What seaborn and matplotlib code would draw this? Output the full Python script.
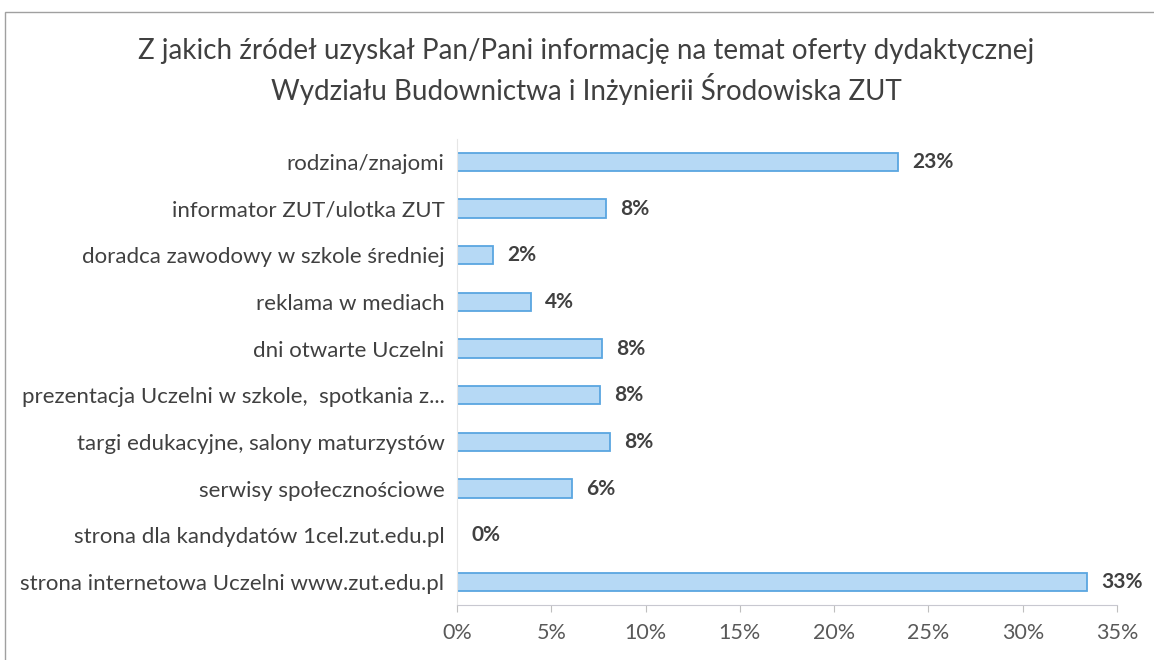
import matplotlib
matplotlib.use('Agg')
import matplotlib.pyplot as plt
import seaborn as sns
import pandas as pd
from matplotlib.patches import Rectangle

categories = [
    'rodzina/znajomi',
    'informator ZUT/ulotka ZUT',
    'doradca zawodowy w szkole średniej',
    'reklama w mediach',
    'dni otwarte Uczelni',
    'prezentacja Uczelni w szkole,  spotkania z...',
    'targi edukacyjne, salony maturzystów',
    'serwisy społecznościowe',
    'strona dla kandydatów 1cel.zut.edu.pl',
    'strona internetowa Uczelni www.zut.edu.pl',
]
values = [23.4, 7.9, 1.9, 3.9, 7.7, 7.6, 8.1, 6.1, 0.0, 33.4]
x_ticks = [0, 5, 10, 15, 20, 25, 30, 35]

title = ('Z jakich źródeł uzyskał Pan/Pani informację na temat oferty dydaktycznej\n'
         'Wydziału Budownictwa i Inżynierii Środowiska ZUT')

sns.set_style('white')
plt.rcParams['font.family'] = ['Lato', 'DejaVu Sans']

df = pd.DataFrame({'source': categories, 'pct': values})

fig = plt.figure(figsize=(11.54, 6.6), dpi=100)
ax = fig.add_axes([0.396, 0.083, 0.572, 0.707])

sns.barplot(data=df, x='pct', y='source', orient='h', ax=ax,
            color='#b6d9f5', edgecolor='#5aa6e0', linewidth=1.3,
            width=0.39, saturation=1)

for i, v in enumerate(values):
    ax.text(v + 0.75, i, f'{v:.0f}%', va='center', ha='left',
            fontsize=15, fontweight='bold', color='#404040')

ax.set_xlim(0, 35)
ax.set_xticks(x_ticks)
ax.set_xticklabels([f'{t}%' for t in x_ticks])
ax.set_xlabel('')
ax.set_ylabel('')
ax.tick_params(axis='x', labelsize=15.5, colors='#595959', length=5,
               width=0.8, pad=8, direction='out', bottom=True)
ax.tick_params(axis='x', color='#bfbfbf')
ax.tick_params(axis='y', labelsize=16, colors='#404040', length=0, pad=9)

for side in ['top', 'right']:
    ax.spines[side].set_visible(False)
ax.spines['bottom'].set_color('#c8c8d0')
ax.spines['left'].set_color('#e6e6e6')
ax.spines['bottom'].set_linewidth(0.8)
ax.spines['left'].set_linewidth(0.8)

fig.text(0.508, 0.892, title, ha='center', va='center', fontsize=20,
         color='#404040', linespacing=1.35)

fig.patches.append(Rectangle((5 / 1154, -0.1), 1.2, 1 - 12 / 660 + 0.1,
                             transform=fig.transFigure, fill=False,
                             edgecolor='#a0a0a0', linewidth=1))

fig.savefig('out.png', dpi=100)
plt.close(fig)
